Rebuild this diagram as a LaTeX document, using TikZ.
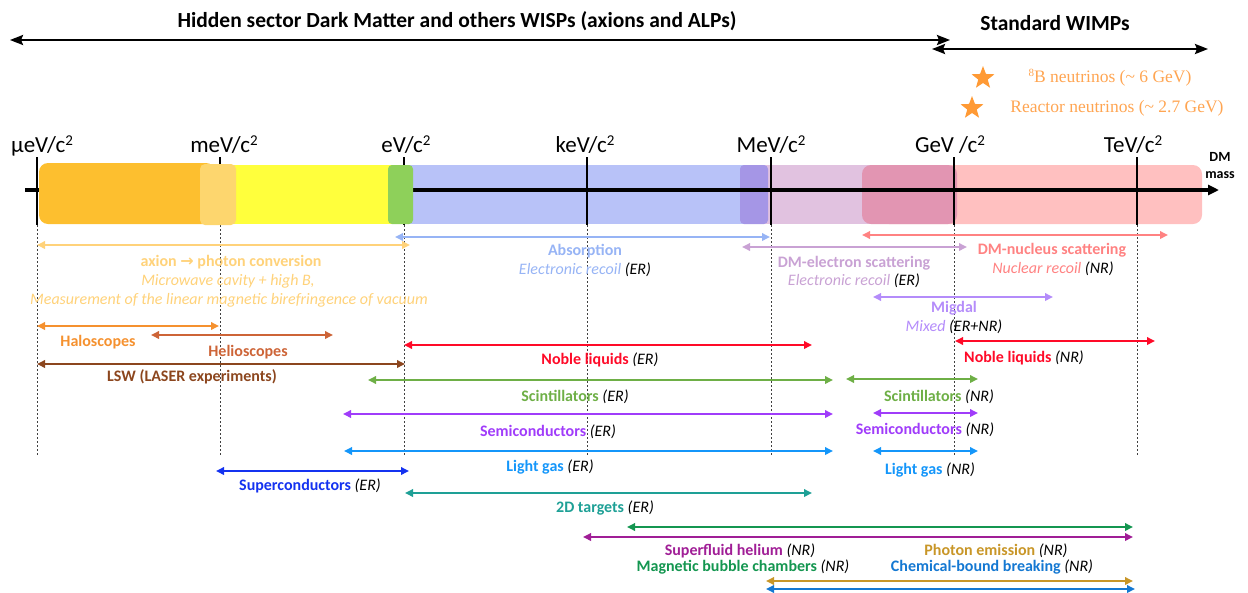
\documentclass[tikz,border=0pt]{standalone}
\usepackage{fontspec}
\setmainfont{Carlito}
\newfontfamily\serifnu{Liberation Serif}
\newfontfamily\symfnt{DejaVu Sans}
\usetikzlibrary{arrows.meta,shapes.geometric}
\definecolor{cabs}{HTML}{97B4F5}
\definecolor{caxion}{HTML}{FFD27A}
\definecolor{cdme}{HTML}{C9A2D4}
\definecolor{cdmn}{HTML}{FF8282}
\definecolor{cmig}{HTML}{B48CFA}
\definecolor{chalo}{HTML}{F5912F}
\definecolor{chelio}{HTML}{CD6437}
\definecolor{clsw}{HTML}{8C461E}
\definecolor{cnoble}{HTML}{FF0A28}
\definecolor{cscint}{HTML}{6EAF46}
\definecolor{csemi}{HTML}{A03CFA}
\definecolor{clight}{HTML}{1496FA}
\definecolor{csuper}{HTML}{1432F0}
\definecolor{c2d}{HTML}{1EA096}
\definecolor{cmbc}{HTML}{149650}
\definecolor{csfh}{HTML}{A01E96}
\definecolor{cphot}{HTML}{C89628}
\definecolor{cchem}{HTML}{1478D2}
\definecolor{cstar}{HTML}{FF9A35}
\definecolor{cnutxt}{HTML}{FFA552}
\definecolor{borange}{HTML}{FDBF2F}
\definecolor{blorange}{HTML}{FDD66E}
\definecolor{byellow}{HTML}{FFFF3C}
\definecolor{bgreen}{HTML}{8ED05A}
\definecolor{bblue}{HTML}{B8C2F8}
\definecolor{bpurple}{HTML}{A596E6}
\definecolor{blilac}{HTML}{E1C2E0}
\definecolor{bdpink}{HTML}{E295B2}
\definecolor{bpink}{HTML}{FFC0C0}
\newcommand{\rarrow}[5]{%
  \coordinate (#1L) at (#3,#2);
  \coordinate (#1R) at (#4,#2);
  \draw[rng,color=#5] (#1L) -- (#1R);}
\newcommand{\sqr}{\raisebox{7pt}{\fontsize{15}{17}\selectfont 2}}
\begin{document}
\begin{tikzpicture}[x=1pt,y=-1pt,
  rng/.style={line width=1.8pt,{Triangle[length=8pt,width=7.5pt]}-{Triangle[length=8pt,width=7.5pt]}},
  big/.style={line width=2.4pt,{Stealth[length=13pt,width=10pt,inset=2pt]}-{Stealth[length=13pt,width=10pt,inset=2pt]}},
  lbl/.style={inner sep=0pt,text height=12pt,text depth=3.5pt,font=\fontsize{16}{19}\selectfont},
  ttl/.style={inner sep=0pt,text height=15pt,text depth=4.5pt,font=\fontsize{21.5}{25}\selectfont\bfseries},
  axl/.style={inner sep=0pt,anchor=base,font=\fontsize{23}{27}\selectfont},
  nu/.style={inner sep=0pt,text height=12pt,text depth=3.5pt,text=cnutxt,font=\fontsize{17.5}{20}\selectfont\serifnu},
  tickline/.style={line width=1.5pt,black},
  dotline/.style={line width=0.8pt,black!75,dash pattern=on 2pt off 2pt},
  starnode/.style={star,star points=5,star point ratio=2.4,fill=cstar,minimum size=24pt,inner sep=0pt}]
\useasboundingbox (0,0) rectangle (1248,592);
% top
\node[ttl] (title) at (457,22) {Hidden sector Dark Matter and others WISPs (axions and ALPs)};
\coordinate (topL) at (10,40); \coordinate (topR) at (950,40);
\draw[big] (topL) -- (topR);
\node[ttl] (wimps) at (1055,25) {Standard WIMPs};
\coordinate (wL) at (932,49); \coordinate (wR) at (1208,49);
\draw[big] (wL) -- (wR);
\node[starnode] (st1) at (983,78) {};
\node[starnode] (st2) at (972,108) {};
\node[nu] (nu1) at (1110,78) {\raisebox{6pt}{\fontsize{11}{12}\selectfont 8}B neutrinos (\textasciitilde{} 6 GeV)};
\node[nu] (nu2) at (1117,108) {Reactor neutrinos (\textasciitilde{} 2.7 GeV)};
% axis labels
\node[axl] (lu) at (42,152) {μeV/c\sqr};
\node[axl] (lm) at (224,152) {meV/c\sqr};
\node[axl] (le) at (406,152) {eV/c\sqr};
\node[axl] (lk) at (585,152) {keV/c\sqr};
\node[axl] (lM) at (771,152) {MeV/c\sqr};
\node[axl] (lG) at (950,152) {GeV /c\sqr};
\node[axl] (lT) at (1133,152) {TeV/c\sqr};
\node[inner sep=0pt,font=\fontsize{14}{16}\selectfont\bfseries] (dm1) at (1220,157) {DM};
\node[inner sep=0pt,font=\fontsize{14}{16}\selectfont\bfseries] (dm2) at (1220,175) {mass};
% bars (right part)
\fill[bblue] (400,165) rectangle (750,224);
\fill[blilac] (755,165) rectangle (900,224);
\fill[bpink,rounded corners=9pt] (880,165) rectangle (1202,224);
\fill[bdpink,rounded corners=9pt] (862,165) rectangle (957,224);
\fill[bpurple,rounded corners=4pt] (740,165) rectangle (768,224);
% axis
\coordinate (axL) at (25,190); \coordinate (axR) at (1219,190);
\draw[line width=3.2pt,-{Triangle[length=11pt,width=10pt]}] (axL) -- (axR);
\foreach \n/\x in {u/37,m/220,e/404,k/587,M/771,G/954,T/1137}{
  \coordinate (tick\n a) at (\x,157);
  \coordinate (tick\n b) at (\x,225);
  \coordinate (tick\n c) at (\x,456);
  \draw[tickline] (tick\n a) -- (tick\n b);
  \draw[dotline] (tick\n b) -- (tick\n c);
}
% bars (left part)
\fill[borange,rounded corners=9pt] (39,163) rectangle (215,224);
\fill[byellow] (230,165) rectangle (395,224);
\fill[blorange,rounded corners=5pt] (200,164) rectangle (236,225);
\fill[bgreen,rounded corners=4pt] (388,165) rectangle (413,224);
% range arrows
\rarrow{abs}{237}{395}{770}{cabs}
\rarrow{axp}{245}{37}{410}{caxion}
\rarrow{dme}{247}{742}{967}{cdme}
\rarrow{dmn}{235}{862}{1168}{cdmn}
\rarrow{mig}{297}{873}{1053}{cmig}
\rarrow{halo}{326}{37}{219}{chalo}
\rarrow{helio}{335}{151}{333}{chelio}
\rarrow{noer}{345}{404}{812}{cnoble}
\rarrow{nonr}{341}{955}{1155}{cnoble}
\rarrow{lsw}{364}{37}{405}{clsw}
\rarrow{scer}{380}{368}{833}{cscint}
\rarrow{scnr}{379}{846}{978}{cscint}
\rarrow{seer}{414}{343}{833}{csemi}
\rarrow{senr}{413}{873}{978}{csemi}
\rarrow{lger}{451}{344}{833}{clight}
\rarrow{lgnr}{451}{873}{978}{clight}
\rarrow{sup}{471}{216}{409}{csuper}
\rarrow{twod}{493}{405}{812}{c2d}
\rarrow{mbc}{527}{627}{1133}{cmbc}
\rarrow{sfh}{537}{583}{1133}{csfh}
\rarrow{phe}{581}{766}{1133}{cphot}
\rarrow{chb}{589}{766}{1135}{cchem}
% labels
\node[lbl,text=caxion] (tax1) at (231,262) {\textbf{axion {\symfnt\bfseries →} photon conversion}};
\node[lbl,text=caxion] (tax2) at (228,281) {\textit{Microwave cavity + high B,}};
\node[lbl,text=caxion] (tax3) at (229,300) {\textit{Measurement of the linear magnetic birefringence of vacuum}};
\node[lbl] (tabs1) at (585,251) {\textcolor{cabs}{\textbf{Absorption}}};
\node[lbl] (tabs2) at (585,270) {\textit{\textcolor{cabs}{Electronic recoil} (ER)}};
\node[lbl] (tdme1) at (854,263) {\textcolor{cdme}{\textbf{DM-electron scattering}}};
\node[lbl] (tdme2) at (854,281) {\textit{\textcolor{cdme}{Electronic recoil} (ER)}};
\node[lbl] (tdmn1) at (1052,250) {\textcolor{cdmn}{\textbf{DM-nucleus scattering}}};
\node[lbl] (tdmn2) at (1053,269) {\textit{\textcolor{cdmn}{Nuclear recoil} (NR)}};
\node[lbl] (tmig1) at (954,308) {\textcolor{cmig}{\textbf{Migdal}}};
\node[lbl] (tmig2) at (954,327) {\textit{\textcolor{cmig}{Mixed} (ER+NR)}};
\node[lbl] (thalo) at (98,342) {\textcolor{chalo}{\textbf{Haloscopes}}};
\node[lbl] (thelio) at (248,352) {\textcolor{chelio}{\textbf{Helioscopes}}};
\node[lbl] (tlsw) at (192,377) {\textcolor{clsw}{\textbf{LSW (LASER experiments)}}};
\node[lbl] (tnoer) at (600,360) {\textcolor{cnoble}{\textbf{Noble liquids}} \textit{(ER)}};
\node[lbl] (tnonr) at (1024,358) {\textcolor{cnoble}{\textbf{Noble liquids}} \textit{(NR)}};
\node[lbl] (tscer) at (575,397) {\textcolor{cscint}{\textbf{Scintillators}} \textit{(ER)}};
\node[lbl] (tscnr) at (939,397) {\textcolor{cscint}{\textbf{Scintillators}} \textit{(NR)}};
\node[lbl] (tseer) at (548,432) {\textcolor{csemi}{\textbf{Semiconductors}} \textit{(ER)}};
\node[lbl] (tsenr) at (925,430) {\textcolor{csemi}{\textbf{Semiconductors}} \textit{(NR)}};
\node[lbl] (tlger) at (550,467) {\textcolor{clight}{\textbf{Light gas}} \textit{(ER)}};
\node[lbl] (tlgnr) at (930,470) {\textcolor{clight}{\textbf{Light gas}} \textit{(NR)}};
\node[lbl] (tsup) at (310,486) {\textcolor{csuper}{\textbf{Superconductors}} \textit{(ER)}};
\node[lbl] (ttwod) at (605,508) {\textcolor{c2d}{\textbf{2D targets}} \textit{(ER)}};
\node[lbl] (tsfh) at (740,551) {\textcolor{csfh}{\textbf{Superfluid helium}} \textit{(NR)}};
\node[lbl] (tmbc) at (743,567) {\textcolor{cmbc}{\textbf{Magnetic bubble chambers}} \textit{(NR)}};
\node[lbl] (tphe) at (996,551) {\textcolor{cphot}{\textbf{Photon emission}} \textit{(NR)}};
\node[lbl] (tchb) at (992,567) {\textcolor{cchem}{\textbf{Chemical-bound breaking}} \textit{(NR)}};
\end{tikzpicture}
\end{document}
